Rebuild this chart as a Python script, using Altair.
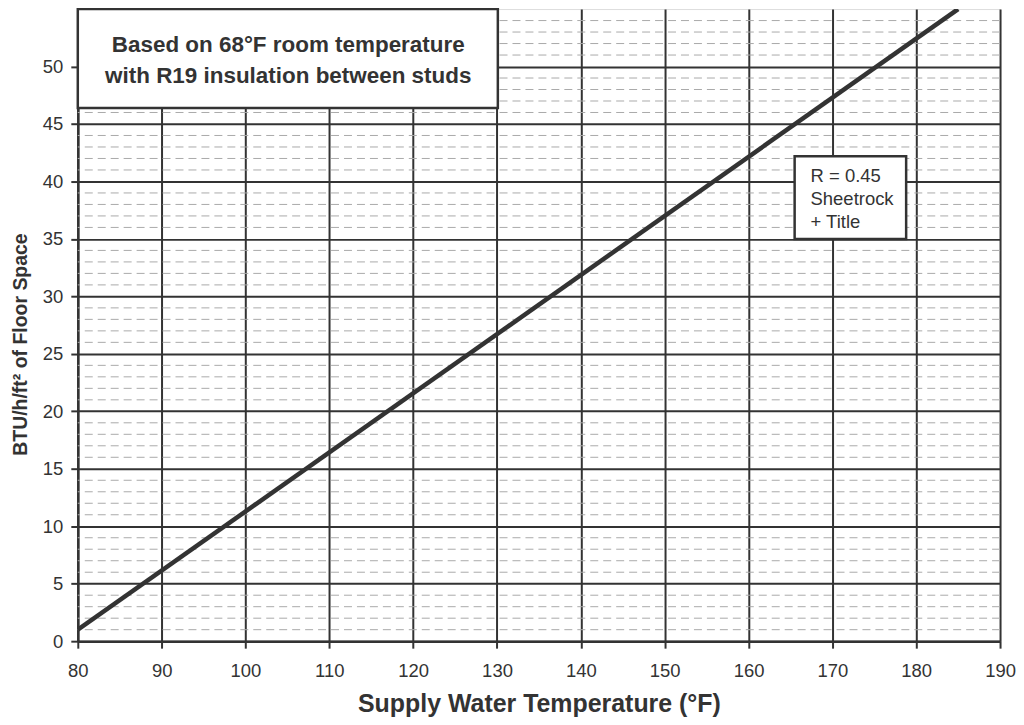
import altair as alt
import pandas as pd

# main series: supply water temperature vs output
temp_f = [80, 185]
btu = [1.0, 55.0]

x_ticks = [80, 90, 100, 110, 120, 130, 140, 150, 160, 170, 180, 190]
y_ticks = [0, 5, 10, 15, 20, 25, 30, 35, 40, 45, 50]
minor_y = [v for v in range(1, 55) if v % 5 != 0]

# annotation boxes (data coordinates)
box_x1 = [80, 165.5]
box_x2 = [130.1, 178.8]
box_y1 = [46.4, 35.0]
box_y2 = [55, 42.2]

note1_lines = ["Based on 68°F room temperature", "with R19 insulation between studs"]
note1_x = [105.1, 105.1]
note1_y = [51.9, 49.2]

note2_lines = ["R = 0.45", "Sheetrock", "+ Title"]
note2_x = [167.4, 167.4, 167.4]
note2_y = [40.5, 38.5, 36.5]

line_df = pd.DataFrame({"t": temp_f, "b": btu})
minor_df = pd.DataFrame({"y": minor_y})
box_df = pd.DataFrame({"x1": box_x1, "x2": box_x2, "y1": box_y1, "y2": box_y2})
n1 = pd.DataFrame({"x": note1_x, "y": note1_y, "txt": note1_lines})
n2 = pd.DataFrame({"x": note2_x, "y": note2_y, "txt": note2_lines})

xs = alt.Scale(domain=[80, 190], nice=False, zero=False)
ys = alt.Scale(domain=[0, 55], nice=False, zero=False)

FONT = "Liberation Sans"

xax = alt.Axis(values=x_ticks, title="Supply Water Temperature (°F)", grid=True,
               gridColor="#333333", gridWidth=2, gridOpacity=1,
               domainColor="#333333", domainWidth=2.5, tickColor="#333333", tickWidth=2,
               tickSize=7, labelFontSize=18.5, labelColor="#333333", labelPadding=13,
               labelFlush=False, labelOverlap=False,
               titleFontSize=25, titleFontWeight="bold", titleColor="#333333", titlePadding=12,
               labelFont=FONT, titleFont=FONT)
yax = alt.Axis(values=y_ticks, title="BTU/h/ft² of Floor Space", grid=True,
               gridColor="#333333", gridWidth=2, gridOpacity=1,
               domainColor="#333333", domainWidth=2.5, tickColor="#333333", tickWidth=2,
               tickSize=7, labelFontSize=18.5, labelColor="#333333", labelPadding=8,
               labelFlush=False, labelOverlap=False,
               titleFontSize=19.5, titleFontWeight="bold", titleColor="#333333",
               titleX=-47, titleY=336,
               labelFont=FONT, titleFont=FONT)

minor = alt.Chart(minor_df).mark_rule(color="#aaaaaa", strokeWidth=1, strokeDash=[8, 5]).encode(
    y=alt.Y("y:Q", scale=ys, axis=yax)
)

line = alt.Chart(line_df).mark_line(color="#333333", strokeWidth=4.5, clip=True).encode(
    x=alt.X("t:Q", scale=xs, axis=xax),
    y=alt.Y("b:Q", scale=ys, axis=yax),
)

boxes = alt.Chart(box_df).mark_rect(fill="white", stroke="#333333", strokeWidth=2.5).encode(
    x="x1:Q", x2="x2:Q", y="y1:Q", y2="y2:Q"
)

t1 = alt.Chart(n1).mark_text(fontSize=22.5, fontWeight="bold", color="#333333",
                             font=FONT, align="center", baseline="middle").encode(
    x="x:Q", y="y:Q", text="txt:N"
)
t2 = alt.Chart(n2).mark_text(fontSize=18.5, color="#333333", font=FONT,
                             align="left", baseline="middle").encode(
    x="x:Q", y="y:Q", text="txt:N"
)

chart = alt.layer(minor, line, boxes, t1, t2).properties(
    width=925, height=634,
    autosize=alt.AutoSizeParams(type="none"),
    padding={"left": 70, "top": 0, "right": 16, "bottom": 80},
).configure_view(stroke="#333333", strokeWidth=2.5).configure(background="white")

chart.save("out.html", embed_options={"renderer": "svg", "actions": False})
